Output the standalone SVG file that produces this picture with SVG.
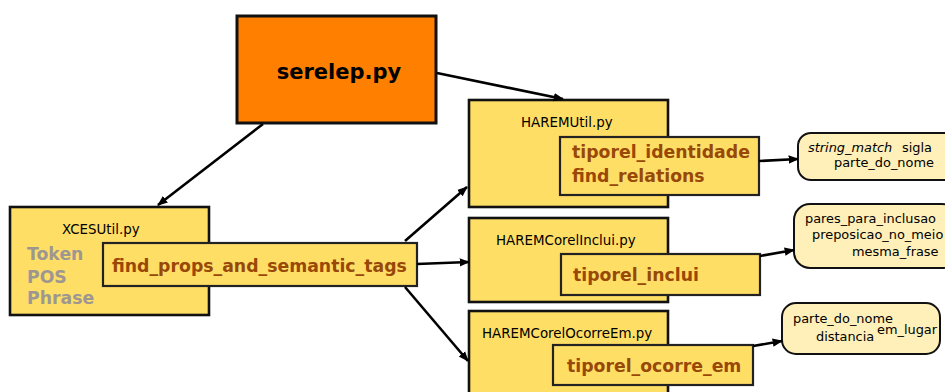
<svg xmlns="http://www.w3.org/2000/svg" width="945" height="392" viewBox="0 0 945 392">
  <defs>
    <marker id="arrow" viewBox="0 0 10 10" refX="9" refY="5" markerWidth="4" markerHeight="4" orient="auto" markerUnits="strokeWidth">
      <path d="M0,1 L10,5 L0,9 Z" fill="#000"/>
    </marker>
    <style>
      .main { fill: #ff7f00; stroke: #111; stroke-width: 3; }
      .mod { fill: #ffde66; stroke: #111; stroke-width: 2.6; }
      .fn { fill: #ffde66; stroke: #222; stroke-width: 2.2; }
      .note { fill: #ffefb8; stroke: #111; stroke-width: 2; }
      .edge { stroke: #000; stroke-width: 2.6; fill: none; marker-end: url(#arrow); }
      text { font-family: "DejaVu Sans", "Liberation Sans", sans-serif; }
      .title { font-size: 21px; font-weight: bold; fill: #000; }
      .file { font-size: 13.4px; fill: #000; }
      .fname { font-size: 17.3px; font-weight: bold; fill: #984807; }
      .cls { font-size: 17.3px; font-weight: bold; fill: #9e9791; }
      .small { font-size: 12.9px; fill: #000; }
    </style>
  </defs>

  <!-- entry script -->
  <g id="serelep">
    <rect class="main" x="237" y="16" width="199" height="107"/>
    <text class="title" x="339" y="79" text-anchor="middle">serelep.py</text>
  </g>

  <!-- XCES reader -->
  <g id="xcesutil">
    <rect class="mod" x="10" y="207" width="199" height="108"/>
    <text class="file" x="62" y="234">XCESUtil.py</text>
    <text class="cls" x="27" y="260">Token</text>
    <text class="cls" x="27" y="283">POS</text>
    <text class="cls" x="27" y="304">Phrase</text>
    <rect class="fn" x="103" y="243" width="314" height="43"/>
    <text class="fname" x="112" y="272">find_props_and_semantic_tags</text>
  </g>

  <!-- identity relations -->
  <g id="haremutil">
    <rect class="mod" x="469" y="100" width="199" height="107"/>
    <text class="file" x="521" y="127">HAREMUtil.py</text>
    <rect class="fn" x="560" y="137" width="199" height="58"/>
    <text class="fname" x="572" y="158">tiporel_identidade</text>
    <text class="fname" x="572" y="182">find_relations</text>
  </g>

  <g id="note-identidade">
    <rect class="note" x="798" y="133" width="160" height="47" rx="13"/>
    <text class="small" x="808" y="152" font-style="italic">string_match</text>
    <text class="small" x="902" y="152">sigla</text>
    <text class="small" x="834" y="167">parte_do_nome</text>
  </g>

  <!-- inclusion relations -->
  <g id="haremcorelinclui">
    <rect class="mod" x="469" y="218" width="199" height="84"/>
    <text class="file" x="496" y="245">HAREMCorelInclui.py</text>
    <rect class="fn" x="561" y="254" width="199" height="41"/>
    <text class="fname" x="573" y="281">tiporel_inclui</text>
  </g>

  <g id="note-inclui">
    <rect class="note" x="794" y="204" width="164" height="64" rx="16"/>
    <text class="small" x="805" y="223">pares_para_inclusao</text>
    <text class="small" x="812" y="239">preposicao_no_meio</text>
    <text class="small" x="852" y="256">mesma_frase</text>
  </g>

  <!-- occurs-in relations -->
  <g id="haremcorelocorreem">
    <rect class="mod" x="469" y="311" width="199" height="92"/>
    <text class="file" x="482" y="338">HAREMCorelOcorreEm.py</text>
    <rect class="fn" x="553" y="345" width="200" height="40"/>
    <text class="fname" x="567" y="372">tiporel_ocorre_em</text>
  </g>

  <g id="note-ocorre">
    <rect class="note" x="782" y="303" width="158" height="51" rx="14"/>
    <text class="small" x="793" y="323">parte_do_nome</text>
    <text class="small" x="816" y="341">distancia</text>
    <text class="small" x="877" y="334">em_lugar</text>
  </g>

  <!-- call connectors -->
  <g id="connectors">
    <line class="edge" x1="437" y1="73" x2="563" y2="99"/>
    <line class="edge" x1="263" y1="124" x2="158" y2="205"/>
    <line class="edge" x1="405" y1="241" x2="467" y2="187"/>
    <line class="edge" x1="417" y1="264" x2="469" y2="262"/>
    <line class="edge" x1="405" y1="287" x2="468" y2="361"/>
    <line class="edge" x1="759" y1="161" x2="798" y2="159"/>
    <line class="edge" x1="760" y1="256" x2="794" y2="250"/>
    <line class="edge" x1="753" y1="346" x2="782" y2="341"/>
  </g>
</svg>
